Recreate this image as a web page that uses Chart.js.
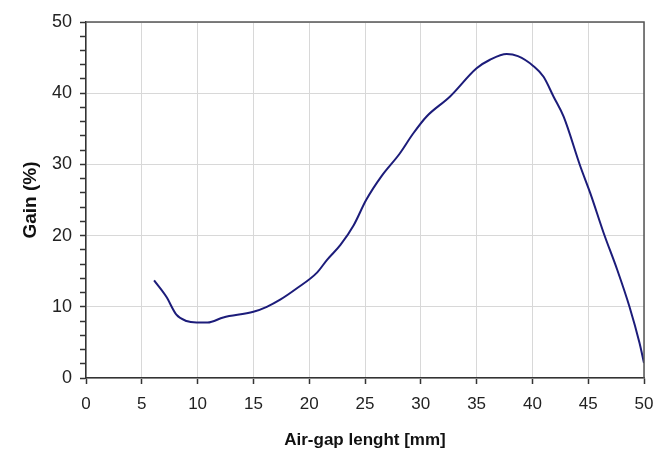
<!DOCTYPE html>
<html>
<head>
<meta charset="utf-8">
<script src="https://cdn.jsdelivr.net/npm/chart.js@4"></script>
<style>
  html, body { margin: 0; padding: 0; background: #fff; }
  #wrap { width: 666px; height: 453px; }
</style>
</head>
<body>
<div id="wrap"><canvas id="chart"></canvas></div>
<script>
"use strict";

// values
const gapLength = [6.1, 7.2, 8.1, 9.0, 9.9, 10.9, 12.3, 15.0, 16.2, 17.4, 18.9, 20.7, 21.6, 22.8, 24.0, 25.1,
  26.5, 28.1, 29.3, 30.5, 32.6, 35.0, 36.2, 37.7, 38.7, 40.1, 41.0, 41.9, 42.8, 44.3, 45.2, 46.4, 47.6, 48.7, 49.6, 50.0];
const gain = [13.7, 11.4, 8.9, 8.0, 7.8, 7.8, 8.5, 9.3, 10.0, 11.0, 12.6, 14.8, 16.6, 18.7, 21.5, 25.0,
  28.4, 31.5, 34.3, 36.7, 39.5, 43.5, 44.7, 45.5, 45.2, 43.8, 42.3, 39.5, 36.7, 29.7, 25.9, 20.3, 15.2, 10.0, 4.9, 2.1];

const xTitle = 'Air-gap lenght [mm]';
const yTitle = 'Gain (%)';

const points = gapLength.map((x, i) => ({ x: x, y: gain[i] }));

// frame round the plot area (top and right sides)
const framePlugin = {
  id: 'frame',
  afterDraw(chart) {
    const a = chart.chartArea;
    const ctx = chart.ctx;
    ctx.save();
    ctx.strokeStyle = '#555';
    ctx.lineWidth = 1.5;
    ctx.beginPath();
    ctx.moveTo(a.left, a.top);
    ctx.lineTo(a.right, a.top);
    ctx.lineTo(a.right, a.bottom);
    ctx.stroke();
    ctx.restore();
  }
};

new Chart(document.getElementById('chart').getContext('2d'), {
  type: 'scatter',
  data: {
    datasets: [{
      data: points,
      showLine: true,
      borderColor: '#1c1c7a',
      borderWidth: 2,
      pointRadius: 0,
      tension: 0.3,
      cubicInterpolationMode: 'monotone'
    }]
  },
  options: {
    responsive: true,
    maintainAspectRatio: false,
    animation: false,
    layout: { padding: { top: 22, right: 22, left: 0, bottom: 0 } },
    plugins: { legend: { display: false }, tooltip: { enabled: false } },
    scales: {
      x: {
        type: 'linear',
        min: 0,
        max: 50,
        ticks: {
          stepSize: 5,
          color: '#222',
          font: { family: 'Liberation Sans, Arial', size: 17 },
          padding: 10
        },
        grid: {
          color: '#d8d8d8',
          lineWidth: 1,
          tickLength: 6,
          tickColor: '#333',
          tickWidth: 1.5
        },
        border: { color: '#333', width: 1.5 },
        title: {
          display: true,
          text: xTitle,
          color: '#111',
          font: { family: 'Liberation Sans, Arial', size: 17, weight: 'bold' },
          padding: { top: 8, bottom: 2 }
        },
        afterFit(scale) { scale.height = 75; }
      },
      y: {
        type: 'linear',
        min: 0,
        max: 50,
        ticks: {
          stepSize: 2,
          autoSkip: false,
          color: '#222',
          font: { family: 'Liberation Sans, Arial', size: 18 },
          padding: 8,
          callback: v => (v % 10 === 0 ? v : '')
        },
        grid: {
          color: ctx => (ctx.tick && ctx.tick.value % 10 === 0 ? '#d8d8d8' : 'rgba(0,0,0,0)'),
          lineWidth: 1,
          tickLength: 6,
          tickColor: '#333',
          tickWidth: 1.5
        },
        border: { color: '#333', width: 1.5 },
        title: {
          display: true,
          text: yTitle,
          color: '#111',
          font: { family: 'Liberation Sans, Arial', size: 19, weight: 'bold' },
          padding: { top: 19, bottom: 0 }
        },
        afterFit(scale) { scale.width = 86; }
      }
    }
  },
  plugins: [framePlugin]
});
</script>
</body>
</html>
